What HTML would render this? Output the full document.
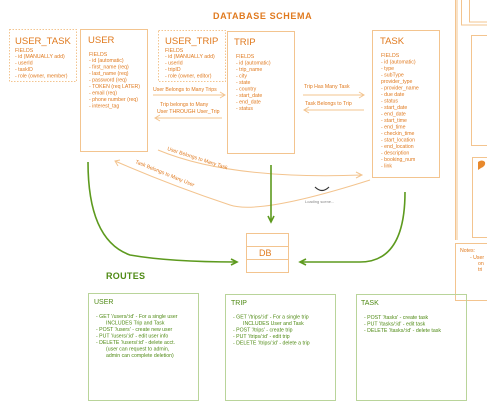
<!DOCTYPE html>
<html><head><style>
html,body{margin:0;padding:0;background:#fff;width:487px;height:411px;overflow:hidden}
svg{display:block}
text{font-family:"Liberation Sans",sans-serif}
.o{fill:#e07a1f}
.g{fill:#4f8a14}
.s{font-size:5.2px}
.t{font-size:9.5px}
</style></head><body>
<svg width="487" height="411" viewBox="0 0 487 411">
<g fill="none" stroke="#f3c48f" stroke-width="1">
<rect x="9.5" y="29.5" width="67" height="52" stroke-dasharray="1.5,1.5"/>
<rect x="80.5" y="29.5" width="67" height="122"/>
<rect x="158.5" y="30.5" width="67" height="51" stroke-dasharray="1.5,1.5"/>
<rect x="227.5" y="31.5" width="67" height="122"/>
<rect x="372.5" y="30.5" width="67" height="147"/>
<line x1="455.5" y1="0" x2="455.5" y2="240"/>
<line x1="457" y1="0" x2="457" y2="240"/>
<rect x="461.5" y="-2" width="30" height="27"/>
<rect x="469.5" y="-2" width="20" height="24"/>
<rect x="471.5" y="35.5" width="20" height="110"/>
<rect x="472.5" y="157.5" width="20" height="80"/>
<rect x="455.5" y="243.5" width="40" height="57"/>
<rect x="246.5" y="233.5" width="42" height="13"/>
<rect x="246.5" y="246.5" width="42" height="13"/>
<rect x="246.5" y="259.5" width="42" height="13"/>
<path d="M153 95 H225 M220 92 L225 95 L220 98"/>
<path d="M222 118 H155 M160 115 L155 118 L160 121"/>
<path d="M303 95 H364 M359 92 L364 95 L359 98"/>
<path d="M364 110 H304 M309 107 L304 110 L309 113"/>
<path d="M158 150 Q230 180 362 175 M356 172 L362 175 L356 178"/>
<path d="M370 180 Q260 215 230 205 Q170 185 115 161 M120 160 L115 161 L118 166"/>
</g>
<path d="M478 162 q4 -3 7 0 q1 4 -4 6 l-3 2 z" fill="#e8892d"/>
<g fill="none" stroke="#5d9a1e" stroke-width="1.6">
<path d="M88 162 Q88 240 130 255 Q170 262 237 262 M231 259 L237 262 L231 265"/>
<path d="M271 165 V222 M268 216 L271 222 L274 216"/>
<path d="M405 192 Q405 262 360 262 H300 M306 259 L300 262 L306 265"/>
</g>
<path d="M315 187 q7 7 14 0" fill="none" stroke="#333" stroke-width="1.2"/>
<text x="305" y="203" font-size="4" fill="#888">Loading scene...</text>
<g fill="none" stroke="#b9d49a" stroke-width="1">
<rect x="88.5" y="293.5" width="110" height="107"/>
<rect x="225.5" y="294.5" width="110" height="106"/>
<rect x="356.5" y="294.5" width="110" height="106"/>
</g>
<text x="213" y="19" font-size="9" font-weight="bold" class="o" letter-spacing="0.6">DATABASE SCHEMA</text>
<text x="15" y="44" class="o t">USER_TASK</text>
<text x="15" y="52" class="o s">FIELDS</text>
<text x="15" y="58" class="o s">- id (MANUALLY add)</text>
<text x="15" y="64.5" class="o s">- userId</text>
<text x="15" y="71" class="o s">- taskID</text>
<text x="15" y="77.5" class="o s">- role (owner, member)</text>
<text x="88" y="43" class="o t">USER</text>
<text x="89" y="56" class="o s">FIELDS</text>
<g class="o s">
<text x="89" y="62">- id (automatic)</text>
<text x="89" y="68.5">- first_name (req)</text>
<text x="89" y="75">- last_name (req)</text>
<text x="89" y="81.5">- password (req)</text>
<text x="89" y="88">- TOKEN (req LATER)</text>
<text x="89" y="94.5">- email (req)</text>
<text x="89" y="101">- phone number (req)</text>
<text x="89" y="107.5">- interest_tag</text>
</g>
<text x="165" y="44" class="o t">USER_TRIP</text>
<g class="o s">
<text x="165" y="52">FIELDS</text>
<text x="165" y="58">- id (MANUALLY add)</text>
<text x="165" y="64.5">- userId</text>
<text x="165" y="71">- tripID</text>
<text x="165" y="77.5">- role (owner, editor)</text>
</g>
<text x="234" y="45" class="o t">TRIP</text>
<g class="o s">
<text x="236" y="58">FIELDS</text>
<text x="236" y="64.5">- id (automatic)</text>
<text x="236" y="71">- trip_name</text>
<text x="236" y="77.5">- city</text>
<text x="236" y="84">- state</text>
<text x="236" y="90.5">- country</text>
<text x="236" y="97">- start_date</text>
<text x="236" y="103.5">- end_date</text>
<text x="236" y="110">- status</text>
</g>
<text x="380" y="44" class="o t">TASK</text>
<g class="o s">
<text x="381" y="57">FIELDS</text>
<text x="381" y="63.5">- id (automatic)</text>
<text x="381" y="70">- type</text>
<text x="381" y="76.5">- subType</text>
<text x="381" y="83">provider_type</text>
<text x="381" y="89.5">- provider_name</text>
<text x="381" y="96">- due date</text>
<text x="381" y="102.5">- status</text>
<text x="381" y="109">- start_date</text>
<text x="381" y="115.5">- end_date</text>
<text x="381" y="122">- start_time</text>
<text x="381" y="128.5">- end_time</text>
<text x="381" y="135">- checkin_time</text>
<text x="381" y="141.5">- start_location</text>
<text x="381" y="148">- end_location</text>
<text x="381" y="154.5">- description</text>
<text x="381" y="161">- booking_num</text>
<text x="381" y="167.5">- link</text>
</g>
<g class="o s">
<text x="153" y="91">User Belongs to Many Trips</text>
<text x="160" y="106">Trip belongs to Many</text>
<text x="157" y="113">User THROUGH User_Trip</text>
<text x="304" y="88">Trip Has Many Task</text>
<text x="305" y="105">Task Belongs to Trip</text>
<text x="167" y="150" transform="rotate(18 167 150)">User Belongs to Many Task</text>
<text x="135" y="163" transform="rotate(22 135 163)">Task Belongs to Many User</text>
<text x="460" y="252">Notes:</text>
<text x="470" y="259">- User</text>
<text x="478" y="265">on</text>
<text x="478" y="271">tri</text>
</g>
<text x="259" y="256" font-size="9" class="o">DB</text>
<text x="106" y="279" font-size="9" font-weight="bold" class="g" letter-spacing="0.3">ROUTES</text>
<text x="94" y="304" font-size="7" class="g">USER</text>
<g class="g s">
<text x="96" y="318">- GET '/users/:id' - For a single user</text>
<text x="106" y="324.5">INCLUDES Trip and Task</text>
<text x="96" y="331">- POST '/users' - create new user</text>
<text x="96" y="337.5">- PUT '/users/:id' - edit user info</text>
<text x="96" y="344">- DELETE '/users/:id' - delete acct.</text>
<text x="106" y="350.5">(user can request to admin,</text>
<text x="106" y="357">admin can complete deletion)</text>
</g>
<text x="231" y="305" font-size="7" class="g">TRIP</text>
<g class="g s">
<text x="233" y="318.5">- GET '/trips/:id' - For a single trip</text>
<text x="243" y="325">INCLUDES User and Task</text>
<text x="233" y="331.5">- POST '/trips' - create trip</text>
<text x="233" y="338">- PUT '/trips/:id' - edit trip</text>
<text x="233" y="344.5">- DELETE '/trips/:id' - delete a trip</text>
</g>
<text x="361" y="305" font-size="7" class="g">TASK</text>
<g class="g s">
<text x="364" y="319">- POST '/tasks' - create task</text>
<text x="364" y="325.5">- PUT '/tasks/:id' - edit task</text>
<text x="364" y="332">- DELETE '/tasks/:id' - delete task</text>
</g>
</svg>
</body></html>
